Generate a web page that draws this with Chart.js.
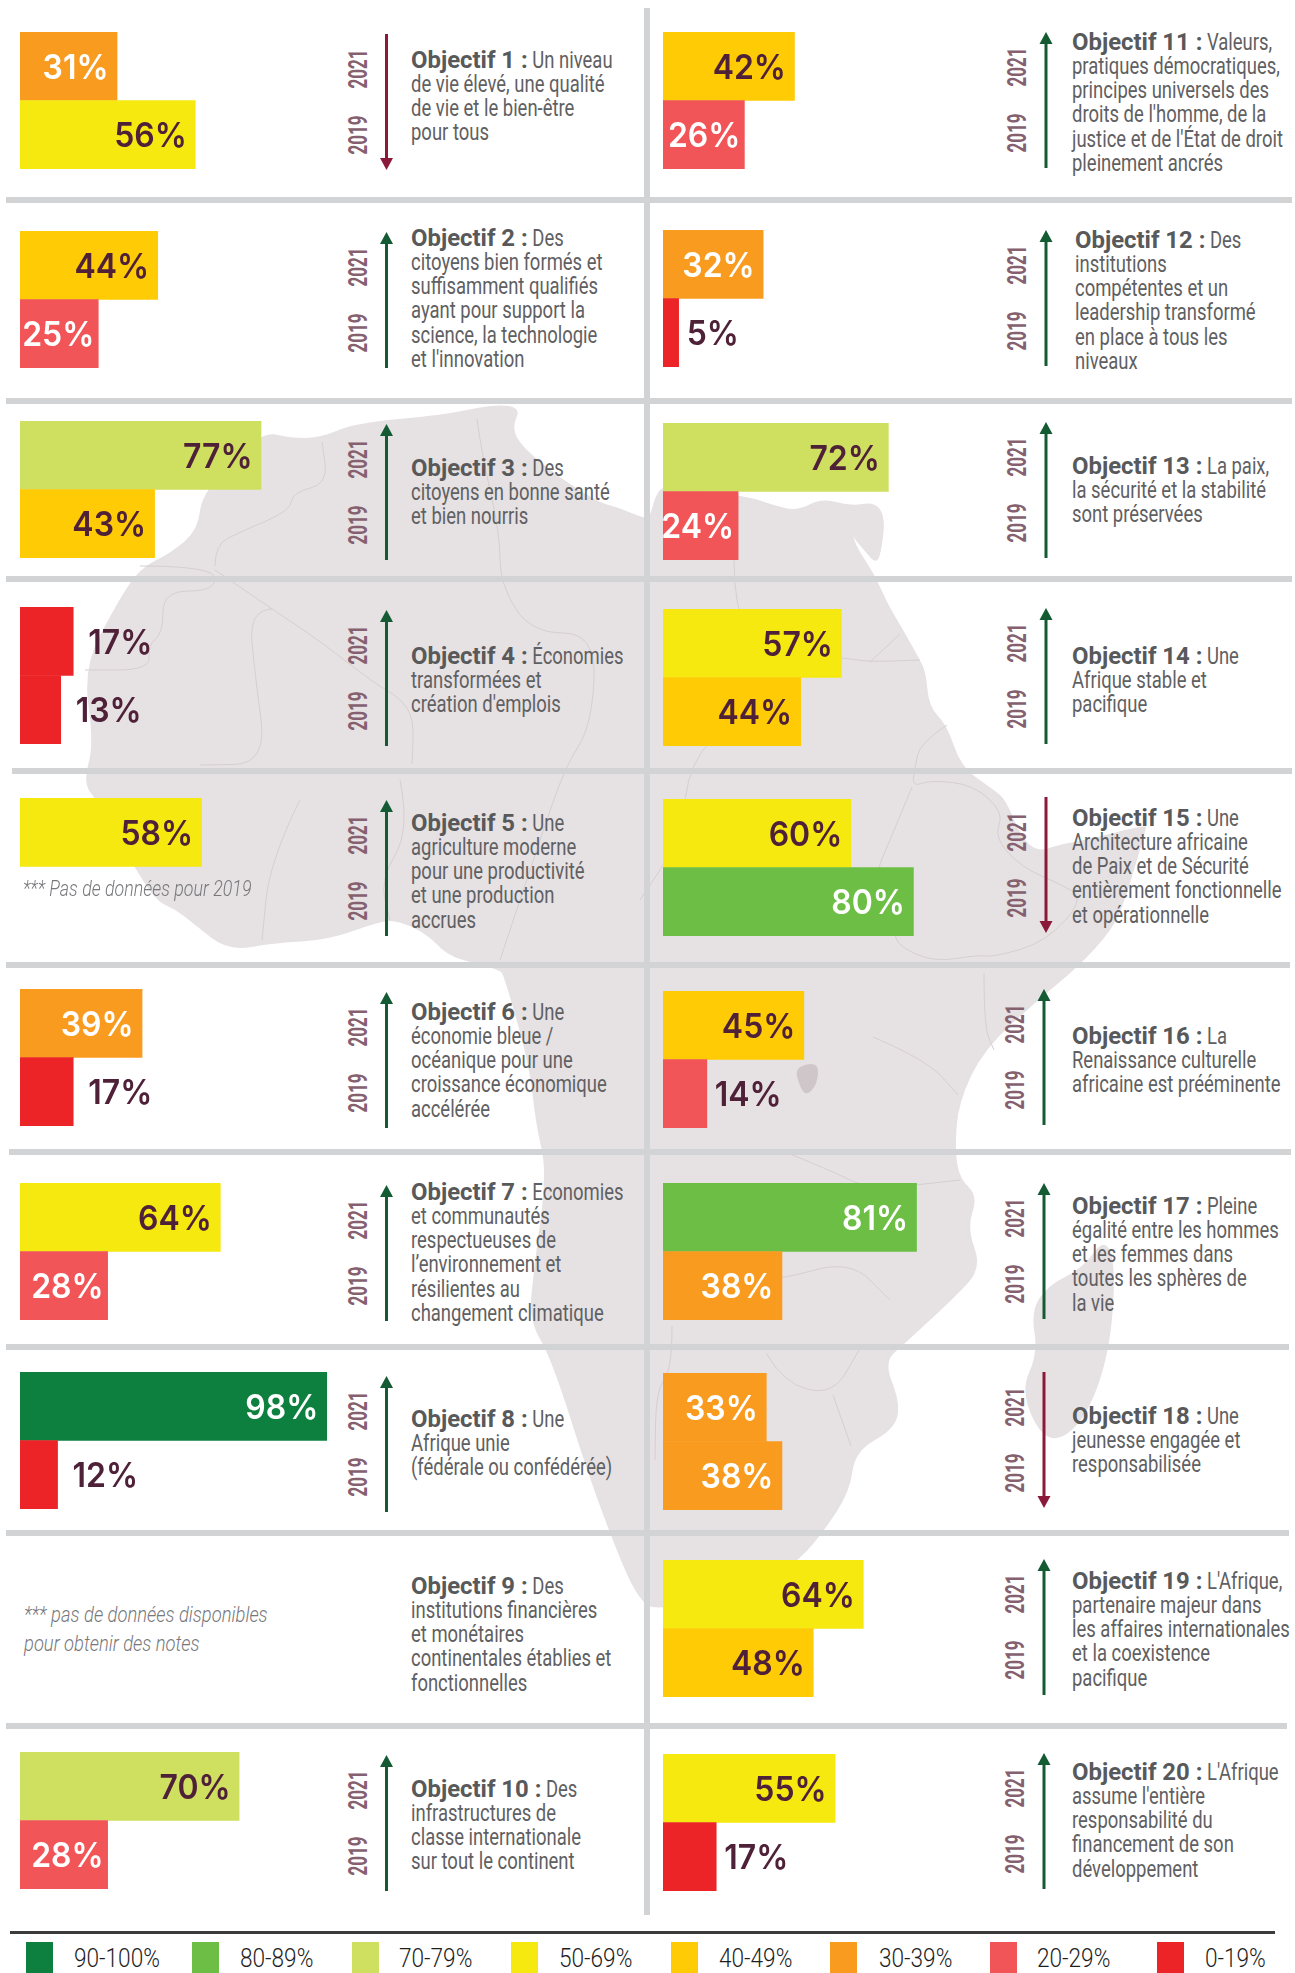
<!DOCTYPE html>
<html lang="fr">
<head>
<meta charset="utf-8">
<title>Objectifs de l'Agenda 2063</title>
<script src="https://cdn.jsdelivr.net/npm/chart.js@4"></script>
<style>
    html, body { margin: 0; padding: 0; background: #fff; }
    #page { position: relative; width: 1295px; height: 1973px; overflow: hidden; }
    #page > * { position: absolute; }
    .rule { background: #d1d3d4; }
    .goal { font-family: Roboto, sans-serif; font-size: 23.5px; line-height: 24.15px; color: #5f6062; white-space: nowrap; }
    .goal div { transform: scaleX(0.785); transform-origin: left center; }
    .goal b { display: inline-block; font-weight: 700; font-size: 23.5px; color: #58595b; transform: scaleX(1.295); transform-origin: left center; }
    .year { font-family: Roboto, sans-serif; font-weight: 700; font-size: 20px; line-height: 20px; width: 50px; height: 20px; text-align: center; color: #85606f; }
    .note { font-family: Roboto, sans-serif; font-style: italic; font-weight: 300; font-size: 22px; line-height: 24px; color: #77787b; white-space: nowrap; transform: scaleX(0.81); transform-origin: left center; }
    .swatch { width: 27px; height: 31px; }
    .band { font-family: Roboto, sans-serif; font-weight: 300; font-size: 26px; line-height: 30px; color: #1f1f1f; white-space: nowrap; transform: scaleX(0.87); transform-origin: left center; }
</style>
</head>
<body>
<div id="page">
    <svg id="map" width="1295" height="1973" style="left:0;top:0"></svg>
</div>

<script>
const yearLabels = ['2021', '2019'];

const goalNames = [
    'Objectif 1 :', 'Objectif 2 :', 'Objectif 3 :', 'Objectif 4 :', 'Objectif 5 :',
    'Objectif 6 :', 'Objectif 7 :', 'Objectif 8 :', 'Objectif 9 :', 'Objectif 10 :',
    'Objectif 11 :', 'Objectif 12 :', 'Objectif 13 :', 'Objectif 14 :', 'Objectif 15 :',
    'Objectif 16 :', 'Objectif 17 :', 'Objectif 18 :', 'Objectif 19 :', 'Objectif 20 :'
];

const goalLines = [
    ['Un niveau', 'de vie élevé, une qualité', 'de vie et le bien-être', 'pour tous'],
    ['Des', 'citoyens bien formés et', 'suffisamment qualifiés', 'ayant pour support la', 'science, la technologie', "et l'innovation"],
    ['Des', 'citoyens en bonne santé', 'et bien nourris'],
    ['Économies', 'transformées et', "création d'emplois"],
    ['Une', 'agriculture moderne', 'pour une productivité', 'et une production', 'accrues'],
    ['Une', 'économie bleue /', 'océanique pour une', 'croissance économique', 'accélérée'],
    ['Economies', 'et communautés', 'respectueuses de', "l’environnement et", 'résilientes au', 'changement climatique'],
    ['Une', 'Afrique unie', '(fédérale ou confédérée)'],
    ['Des', 'institutions financières', 'et monétaires', 'continentales établies et', 'fonctionnelles'],
    ['Des', 'infrastructures de', 'classe internationale', 'sur tout le continent'],
    ['Valeurs,', 'pratiques démocratiques,', 'principes universels des', "droits de l'homme, de la", "justice et de l'État de droit", 'pleinement ancrés'],
    ['Des', 'institutions', 'compétentes et un', 'leadership transformé', 'en place à tous les', 'niveaux'],
    ['La paix,', 'la sécurité et la stabilité', 'sont préservées'],
    ['Une', 'Afrique stable et', 'pacifique'],
    ['Une', 'Architecture africaine', 'de Paix et de Sécurité', 'entièrement fonctionnelle', 'et opérationnelle'],
    ['La', 'Renaissance culturelle', 'africaine est prééminente'],
    ['Pleine', 'égalité entre les hommes', 'et les femmes dans', 'toutes les sphères de', 'la vie'],
    ['Une', 'jeunesse engagée et', 'responsabilisée'],
    ["L'Afrique,", 'partenaire majeur dans', 'les affaires internationales', 'et la coexistence', 'pacifique'],
    ["L'Afrique", "assume l'entière", 'responsabilité du', 'financement de son', 'développement']
];

const values2021 = [31, 44, 77, 17, 58, 39, 64, 98, null, 70, 42, 32, 72, 57, 60, 45, 81, 33, 64, 55];
const values2019 = [56, 25, 43, 13, null, 17, 28, 12, null, 28, 26, 5, 24, 44, 80, 14, 38, 38, 48, 17];

const bandLabels = ['90-100%', '80-89%', '70-79%', '50-69%', '40-49%', '30-39%', '20-29%', '0-19%'];
const bandFloors = [90, 80, 70, 50, 40, 30, 20, 0];
const bandColors = ['#0d8040', '#6cbe45', '#cfdf5f', '#f5e90f', '#ffcb05', '#f99b1f', '#f25557', '#ed2427'];
const bandInk = ['#fff', '#fff', '#4f2138', '#4f2138', '#4f2138', '#fff', '#fff', '#4f2138'];

// the original paints the 14% of objective 16 in the 20-29 colour
const swatch2019Exceptions = { 15: '#f25557' };

// layout, one entry per objective
const barTops = [32, 231, 421, 607, 798, 989, 1183, 1372, null, 1752, 32, 230, 423, 609, 799, 991, 1183, 1373, 1560, 1754];
const arrowTops = [34, 232, 424, 610, 800, 992, 1185, 1376, null, 1755, 32, 230, 422, 608, 797, 989, 1183, 1372, 1559, 1753];
const textCenters = [60, 238, 468, 656, 823, 1012, 1192, 1419, 1586, 1789, 42, 240, 466, 656, 818, 1036, 1206, 1416, 1581, 1772];
const rules = [[197, 6, 1292], [398, 6, 1292], [576, 6, 1292], [768, 12, 1292], [962, 6, 1290], [1149, 9, 1291], [1344, 6, 1289], [1530, 6, 1289], [1723, 6, 1287]];
const swatchLefts = [26, 192, 352, 511, 671, 830, 990, 1157];
const bandTextLefts = [74, 240, 399, 559, 719, 879, 1037, 1205];

// background map, traced by eye
const africaOutline = [
    [496, 404], [521, 408], [512, 427], [521, 446], [560, 478], [600, 503], [617, 507], [643, 518], [650, 517], [655, 497], [663, 485],
    [700, 490], [750, 497], [773, 505], [797, 511], [822, 498], [850, 506], [875, 502], [885, 517], [882, 547], [877, 565], [863, 549],
    [853, 537], [851, 528], [853, 535], [857, 548], [875, 575], [887, 603], [902, 628], [920, 660], [926, 673], [929, 707], [947, 725],
    [961, 767], [994, 790], [1006, 800], [1021, 837], [1038, 852], [1058, 845], [1085, 840], [1146, 825], [1146, 829], [1139, 853], [1125, 900], [1112, 930],
    [1078, 967], [1038, 1000], [984, 1049], [958, 1103], [955, 1152], [960, 1179], [978, 1196], [967, 1228], [982, 1268], [953, 1299],
    [904, 1344], [884, 1362], [900, 1402], [895, 1429], [855, 1451], [850, 1491], [824, 1531], [801, 1558], [760, 1590], [700, 1600],
    [655, 1610], [640, 1600], [623, 1567], [590, 1480], [551, 1357], [529, 1321], [534, 1268], [547, 1172], [536, 1125], [529, 1063],
    [504, 976], [500, 970], [473, 963], [447, 955], [427, 934], [397, 920], [378, 922], [328, 940], [274, 943], [228, 951], [194, 924],
    [175, 909], [156, 901], [130, 860], [98, 802], [83, 783], [94, 744], [83, 668], [117, 603], [140, 568], [171, 553], [198, 530],
    [202, 492], [261, 431], [290, 438], [320, 438], [355, 423], [443, 415]
];
const madagascarOutline = [[1105, 1237], [1116, 1268], [1109, 1357], [1083, 1424], [1047, 1446], [1020, 1393], [1038, 1353], [1031, 1312], [1047, 1286], [1083, 1268]];
const lakeVictoria = [[795, 1067], [819, 1062], [817, 1085], [806, 1096], [799, 1085]];
const borderLines = [
    [[140, 566], [215, 566], [215, 591], [163, 591], [163, 633], [148, 645], [150, 670], [85, 670]],
    [[215, 566], [215, 545], [240, 532], [290, 511], [293, 492], [328, 484], [322, 442]],
    [[215, 570], [272, 609], [320, 641], [374, 683], [400, 698], [414, 718], [412, 764]],
    [[272, 609], [249, 610], [255, 675], [267, 764], [200, 765]],
    [[477, 419], [481, 450], [500, 534], [500, 584], [531, 633], [596, 633], [592, 725], [565, 767], [540, 840], [500, 960]],
    [[734, 560], [734, 657], [842, 657], [867, 662], [920, 660]],
    [[734, 657], [734, 720], [690, 760], [680, 840], [640, 900]],
    [[870, 662], [900, 634]],
    [[947, 725], [920, 743], [915, 767], [912, 787], [931, 780], [974, 785], [1004, 813], [994, 837], [1021, 867], [1058, 883], [1085, 898], [1046, 942], [994, 957], [978, 955], [934, 962], [900, 947], [894, 933]],
    [[912, 787], [890, 840], [873, 880], [880, 930], [894, 933]],
    [[984, 973], [984, 1027], [994, 1050]],
    [[873, 1037], [927, 1060], [958, 1095]],
    [[400, 780], [410, 830], [380, 880], [390, 920]],
    [[300, 800], [270, 860], [262, 940]],
    [[672, 1326], [672, 1370], [656, 1390], [655, 1460]],
    [[766, 1353], [784, 1384], [833, 1395], [859, 1350]],
    [[833, 1395], [851, 1446]],
    [[780, 1150], [830, 1170], [870, 1190], [960, 1180]],
    [[700, 1290], [780, 1280], [850, 1260], [890, 1300]]
];

const page = document.getElementById('page');
const svg = document.getElementById('map');
const SVG_NS = 'http://www.w3.org/2000/svg';

function bandOf(value) {
    return bandFloors.findIndex(floor => value >= floor);
}

function addBlock(className, left, top, text) {
    const el = document.createElement('div');
    el.className = className;
    el.style.left = left + 'px';
    el.style.top = top + 'px';
    if (text) el.textContent = text;
    page.appendChild(el);
    return el;
}

function addSvg(tag, attrs) {
    const el = document.createElementNS(SVG_NS, tag);
    Object.keys(attrs).forEach(key => el.setAttribute(key, attrs[key]));
    svg.appendChild(el);
    return el;
}

// rounds the traced corners with quadratic curves through the midpoints
function smoothPath(points, closed) {
    const mid = (a, b) => [(a[0] + b[0]) / 2, (a[1] + b[1]) / 2];
    if (closed) {
        const start = mid(points[points.length - 1], points[0]);
        let d = `M${start[0]} ${start[1]}`;
        points.forEach((p, i) => {
            const m = mid(p, points[(i + 1) % points.length]);
            d += ` Q${p[0]} ${p[1]} ${m[0]} ${m[1]}`;
        });
        return d + ' Z';
    }
    let d = `M${points[0][0]} ${points[0][1]}`;
    for (let i = 1; i < points.length - 1; i++) {
        const m = mid(points[i], points[i + 1]);
        d += ` Q${points[i][0]} ${points[i][1]} ${m[0]} ${m[1]}`;
    }
    const last = points[points.length - 1];
    return d + ` L${last[0]} ${last[1]}`;
}

function drawMap() {
    addSvg('path', { d: smoothPath(africaOutline, true), fill: '#e6e1e2' });
    addSvg('path', { d: smoothPath(madagascarOutline, true), fill: '#e6e1e2' });
    borderLines.forEach(line => {
        addSvg('path', { d: smoothPath(line, false), fill: 'none', stroke: '#d6cfd2', 'stroke-width': 1 });
    });
    addSvg('path', { d: smoothPath(lakeVictoria, true), fill: '#cfc6ca' });
}

// value labels sit inside the bar, or next to it under 20%
const valueLabels = {
    id: 'valueLabels',
    afterDatasetsDraw(chart) {
        const ctx = chart.ctx;
        const meta = chart.getDatasetMeta(0);
        const outsideGap = chart.canvas.offsetLeft > 600 ? 8 : 15;
        meta.data.forEach((bar, i) => {
            const value = chart.data.datasets[0].data[i];
            if (value == null) return;
            const band = bandOf(value);
            const outside = value < 20;
            const gap = value < 30 ? 4 : 8.5;
            ctx.save();
            ctx.font = '600 34px Inter, Roboto, sans-serif';
            ctx.textBaseline = 'middle';
            ctx.fillStyle = bandInk[band];
            ctx.textAlign = outside ? 'left' : 'right';
            ctx.translate(bar.x + (outside ? outsideGap : -gap), bar.y + 2.5);
            ctx.scale(0.94, 1);
            ctx.fillText(value + '%', 0, 0);
            ctx.restore();
        });
    }
};

function createBars(i, left) {
    const canvas = document.createElement('canvas');
    canvas.width = 313;
    canvas.height = 137;
    canvas.style.left = left + 'px';
    canvas.style.top = barTops[i] + 'px';
    page.appendChild(canvas);

    const data = [values2021[i], values2019[i]];
    const colors = data.map((v, k) => {
        if (v == null) return 'transparent';
        if (k === 1 && swatch2019Exceptions[i]) return swatch2019Exceptions[i];
        return bandColors[bandOf(v)];
    });

    return new Chart(canvas, {
        type: 'bar',
        data: {
            labels: yearLabels,
            datasets: [{ data: data, backgroundColor: colors, borderWidth: 0, categoryPercentage: 1, barPercentage: 1 }]
        },
        options: {
            indexAxis: 'y',
            responsive: false,
            animation: false,
            layout: { padding: 0 },
            plugins: { legend: { display: false }, tooltip: { enabled: false } },
            scales: {
                x: { display: false, min: 0, max: 100 },
                y: { display: false }
            }
        },
        plugins: [valueLabels]
    });
}

function addArrow(i, x) {
    const up = values2019[i] == null || values2021[i] >= values2019[i];
    const color = up ? '#145a32' : '#8b1a3a';
    const top = arrowTops[i];
    const bottom = top + 136;
    const tip = up ? top : bottom;
    const base = up ? top + 12 : bottom - 12;
    addSvg('line', { x1: x, x2: x, y1: up ? base : top, y2: up ? bottom : base, stroke: color, 'stroke-width': 3 });
    addSvg('polygon', { points: `${x},${tip} ${x - 6.5},${base} ${x + 6.5},${base}`, fill: color });
}

function addYears(i, x) {
    [35, 101].forEach((offset, k) => {
        const el = addBlock('year', x - 25, arrowTops[i] + offset - 10, yearLabels[k]);
        el.style.transform = 'rotate(-90deg) scale(0.85, 1.3)';
    });
}

function addText(i, left) {
    const block = addBlock('goal', left, textCenters[i] - 12);
    goalLines[i].forEach((line, k) => {
        const row = document.createElement('div');
        if (k === 0) {
            const name = document.createElement('b');
            name.textContent = goalNames[i];
            row.appendChild(name);
            row.appendChild(document.createTextNode(' ' + line));
            block.appendChild(row);
            // the name is widened back inside the condensed row, so leave it room
            name.style.marginRight = (name.offsetWidth * 0.295) + 'px';
        } else {
            row.textContent = line;
            block.appendChild(row);
        }
    });
}

drawMap();

goalNames.forEach((name, i) => {
    const rightColumn = i >= 10;
    const barLeft = rightColumn ? 663 : 20;
    const arrowX = rightColumn ? (i <= 14 ? 1046 : 1044) : 386.5;
    const textLeft = rightColumn ? (i === 11 ? 1075 : 1072) : 411;

    if (barTops[i] != null) createBars(i, barLeft);
    if (arrowTops[i] != null) {
        addArrow(i, arrowX);
        addYears(i, arrowX - 29);
    }
    addText(i, textLeft);
});

rules.forEach(([y, x0, x1]) => {
    const el = addBlock('rule', x0, y);
    el.style.width = (x1 - x0) + 'px';
    el.style.height = '6px';
});
const divider = addBlock('rule', 644, 8);
divider.style.width = '6px';
divider.style.height = '1907px';

addBlock('note', 23, 877, '*** Pas de données pour 2019');
addBlock('note', 24, 1603, '*** pas de données disponibles').style.transform = 'scaleX(0.835)';
addBlock('note', 24, 1632, 'pour obtenir des notes').style.transform = 'scaleX(0.835)';

const legendRule = addBlock('legendRule', 10, 1931);
legendRule.style.cssText += 'width:1265px;height:3px;background:#3c3c3c';

bandLabels.forEach((label, i) => {
    const swatch = addBlock('swatch', swatchLefts[i], 1942);
    swatch.style.background = bandColors[i];
    addBlock('band', bandTextLefts[i], 1943, label);
});
</script>
</body>
</html>
